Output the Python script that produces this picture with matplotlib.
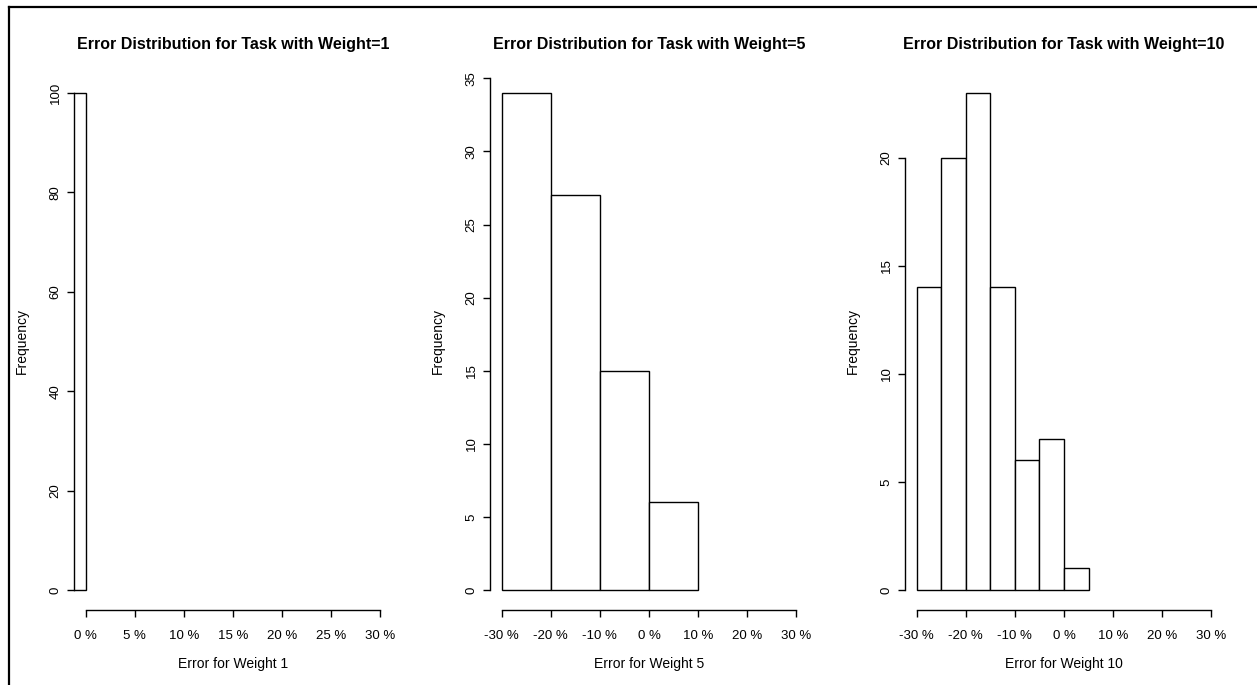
import matplotlib
matplotlib.use("Agg")
import matplotlib.pyplot as plt
from matplotlib.lines import Line2D
import numpy as np

plt.rcParams['font.family'] = ['Liberation Sans', 'DejaVu Sans']

# histogram data, error in percent
weights = [1, 5, 10]
edges_w1 = [-5, 0]
counts_w1 = [100]
edges_w5 = [-30, -20, -10, 0, 10]
counts_w5 = [34, 27, 15, 6]
edges_w10 = [-30, -25, -20, -15, -10, -5, 0, 5]
counts_w10 = [14, 20, 23, 14, 6, 7, 1]

xticks_w1 = [0, 5, 10, 15, 20, 25, 30]
xticks_other = [-30, -20, -10, 0, 10, 20, 30]
yticks_w1 = [0, 20, 40, 60, 80, 100]
yticks_w5 = [0, 5, 10, 15, 20, 25, 30, 35]
yticks_w10 = [0, 5, 10, 15, 20]

panels = [
    (edges_w1, counts_w1, xticks_w1, yticks_w1, (0, 30)),
    (edges_w5, counts_w5, xticks_other, yticks_w5, (-30, 30)),
    (edges_w10, counts_w10, xticks_other, yticks_w10, (-30, 30)),
]

fig = plt.figure(figsize=(12.57, 6.85), dpi=100)

W, H = 1257, 685
lefts = [74, 490, 905]
pw = 318
top, bottom = 73, 610

for i, (edges, counts, xt, yt, xr) in enumerate(panels):
    ax = fig.add_axes([lefts[i] / W, 1 - bottom / H, pw / W, (bottom - top) / H])
    edges = np.array(edges, dtype=float)
    ax.bar(edges[:-1], counts, width=np.diff(edges), align='edge',
           facecolor='white', edgecolor='black', linewidth=1.0)

    # R style 4% padding
    pad = (xr[1] - xr[0]) * 0.04
    ax.set_xlim(xr[0] - pad, xr[1] + pad)
    ymax = max(counts)
    ax.set_ylim(-ymax * 0.04, ymax * 1.04)

    for s in ['top', 'right']:
        ax.spines[s].set_visible(False)
    ax.spines['left'].set_bounds(yt[0], yt[-1])
    ax.spines['bottom'].set_bounds(xt[0], xt[-1])
    for s in ['left', 'bottom']:
        ax.spines[s].set_linewidth(1.0)

    ax.set_xticks(xt)
    ax.set_xticklabels([f"{v} %" for v in xt])
    ax.set_yticks(yt)
    ax.set_yticklabels([str(v) for v in yt], rotation=90, va='center')
    ax.tick_params(direction='out', length=5, width=1.0, labelsize=9.5)
    ax.tick_params(axis='x', pad=9.5)
    ax.tick_params(axis='y', pad=4)

    ax.set_title(f"Error Distribution for Task with Weight={weights[i]}",
                 fontsize=11.5, fontweight='bold', pad=17)
    ax.set_xlabel(f"Error for Weight {weights[i]}", fontsize=10, labelpad=11)
    ax.set_ylabel("Frequency", fontsize=10, labelpad=15)

# outer border on top and left
fig.add_artist(Line2D([9 / W, 1], [1 - 7 / H, 1 - 7 / H], color='black', linewidth=1.6))
fig.add_artist(Line2D([9 / W, 9 / W], [0, 1 - 7 / H], color='black', linewidth=1.6))

fig.savefig("out.png", dpi=100)
